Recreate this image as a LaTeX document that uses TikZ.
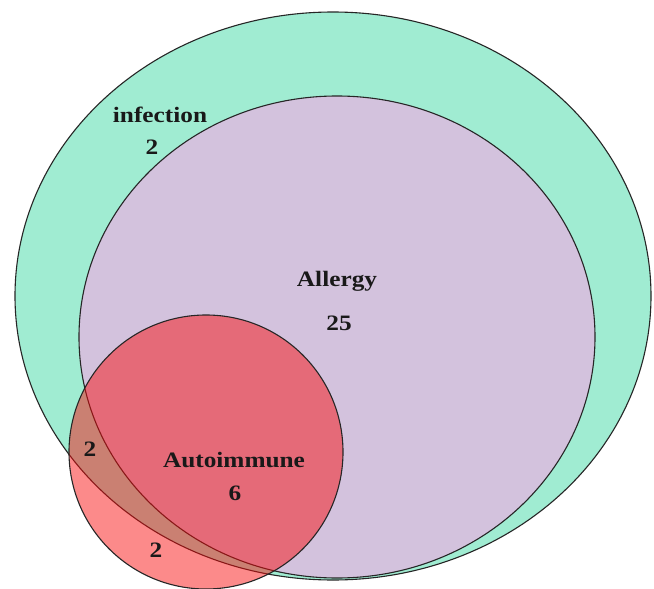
\documentclass[tikz,border=0pt]{standalone}
\usepackage{fontspec}
\newfontfamily\lbl{Liberation Serif}[FakeStretch=1.15]
\definecolor{infgreen}{RGB}{160,236,210}
\definecolor{allpurple}{RGB}{211,194,221}
\definecolor{autored}{RGB}{249,11,11}
\tikzset{
  setshape/.style={draw=black!85, line width=1.1pt},
  lab/.style={font=\lbl\bfseries\fontsize{22}{24}\selectfont, inner sep=0pt, text=black!90}
}
\begin{document}
\begin{tikzpicture}[x=1pt,y=-1pt]
\useasboundingbox (0,0) rectangle (654,589);
\fill[white] (0,0) rectangle (654,589);
\draw[setshape, fill=infgreen] (333,296) ellipse [x radius=318, y radius=284];
\draw[setshape, fill=allpurple] (337,337) ellipse [x radius=258, y radius=241];
\draw[setshape, fill=autored, fill opacity=0.48] (206,452) circle [radius=137];
\node[lab] (inf) at (160,115) {infection};
\node[lab] (infn) at (152,147) {2};
\node[lab] (all) at (337,281) {Allergy};
\node[lab] (alln) at (339,323) {25};
\node[lab] (aut) at (234,460) {Autoimmune};
\node[lab] (autn) at (235,493) {6};
\node[lab] (ia) at (90,449) {2};
\node[lab] (ao) at (156,550) {2};
\end{tikzpicture}
\end{document}
